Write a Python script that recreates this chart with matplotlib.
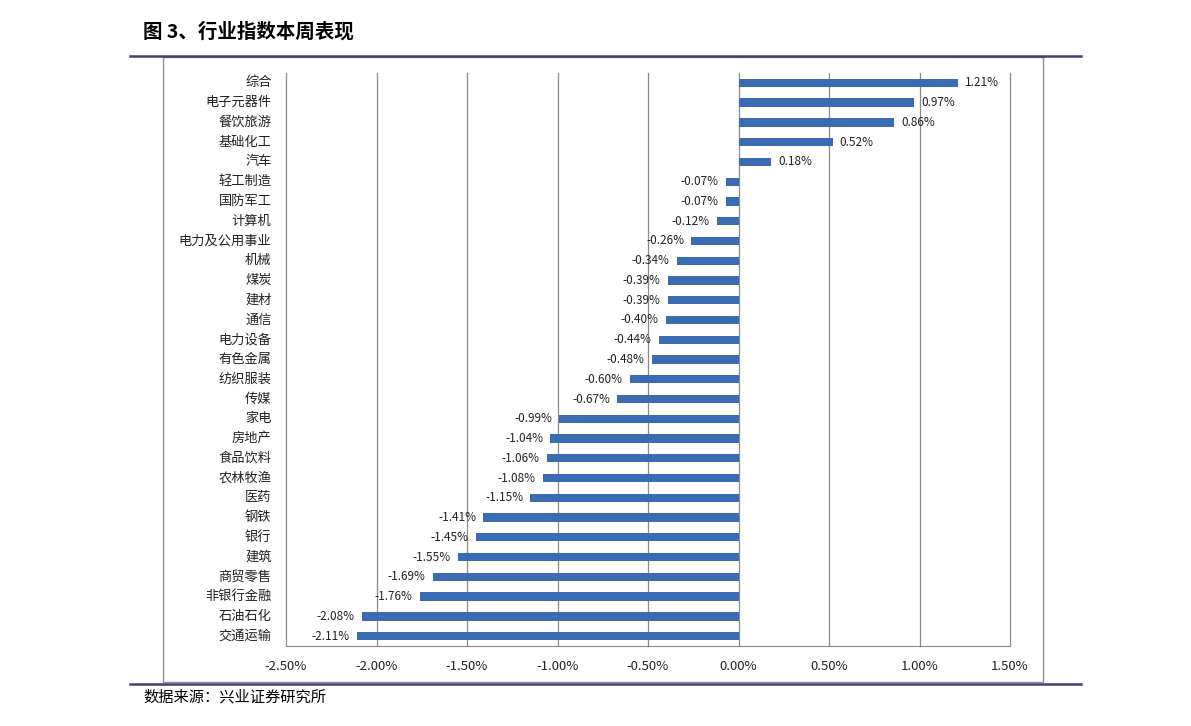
import matplotlib
matplotlib.use("Agg")
import matplotlib.pyplot as plt
from matplotlib.patches import Rectangle
from matplotlib.lines import Line2D
from matplotlib.ticker import FuncFormatter, MultipleLocator

plt.rcParams['font.family'] = ['Noto Sans CJK SC', 'DejaVu Sans']

categories = ["综合", "电子元器件", "餐饮旅游", "基础化工", "汽车", "轻工制造", "国防军工", "计算机",
              "电力及公用事业", "机械", "煤炭", "建材", "通信", "电力设备", "有色金属", "纺织服装",
              "传媒", "家电", "房地产", "食品饮料", "农林牧渔", "医药", "钢铁", "银行", "建筑",
              "商贸零售", "非银行金融", "石油石化", "交通运输"]
values = [1.21, 0.97, 0.86, 0.52, 0.18, -0.07, -0.07, -0.12, -0.26, -0.34, -0.39, -0.39, -0.40,
          -0.44, -0.48, -0.60, -0.67, -0.99, -1.04, -1.06, -1.08, -1.15, -1.41, -1.45, -1.55,
          -1.69, -1.76, -2.08, -2.11]
title = "图 3、行业指数本周表现"
source = "数据来源：兴业证券研究所"

W, H = 1191, 726
fig = plt.figure(figsize=(W / 100, H / 100), dpi=100)

# outer decoration lines
for yy in (56, 684):
    fig.add_artist(Line2D([130 / W, 1081 / W], [1 - yy / H, 1 - yy / H], color="#3f3f7a", lw=1.8))
fig.add_artist(Rectangle((163 / W, 1 - 682 / H), (1043 - 163) / W, (682 - 57) / H,
                         fill=False, edgecolor="#8c8c8c", lw=1.0))

fig.text(143 / W, 1 - 32 / H, title, fontsize=14, fontweight="bold", va="center", ha="left")
fig.text(143 / W, 1 - 697 / H, source, fontsize=11, va="center", ha="left")

ax = fig.add_axes([286 / W, 1 - 646 / H, (1010 - 286) / W, (646 - 73) / H])
n = len(categories)
ypos = list(range(n))
ax.barh(ypos, values, height=0.42, color="#3a6cb3", zorder=3)
ax.set_ylim(n - 0.5, -0.5)
ax.set_xlim(-2.5, 1.5)
ax.xaxis.set_major_locator(MultipleLocator(0.5))
ax.xaxis.set_major_formatter(FuncFormatter(lambda v, p: f"{v:.2f}%"))
ax.grid(False)
for xv in [-2.5, -2.0, -1.5, -1.0, -0.5, 0.0, 0.5, 1.0, 1.5]:
    ax.axvline(xv, color="#8a8a8a", lw=0.9, zorder=1, clip_on=False)
ax.set_yticks([])
for s in ("top", "left", "right"):
    ax.spines[s].set_visible(False)
ax.spines["bottom"].set_color("#8a8a8a")
ax.tick_params(axis="x", length=0, pad=10, labelsize=9.5, colors="#222222")

for y, v, c in zip(ypos, values, categories):
    if v >= 0:
        ax.text(v + 0.04, y, f"{v:.2f}%", va="center", ha="left", fontsize=8.5, color="#222222")
    else:
        ax.text(v - 0.04, y, f"{v:.2f}%", va="center", ha="right", fontsize=8.5, color="#222222")
    ax.text(-2.58, y, c, va="center", ha="right", fontsize=9.5, color="#222222")

fig.savefig("out.png", dpi=100)
